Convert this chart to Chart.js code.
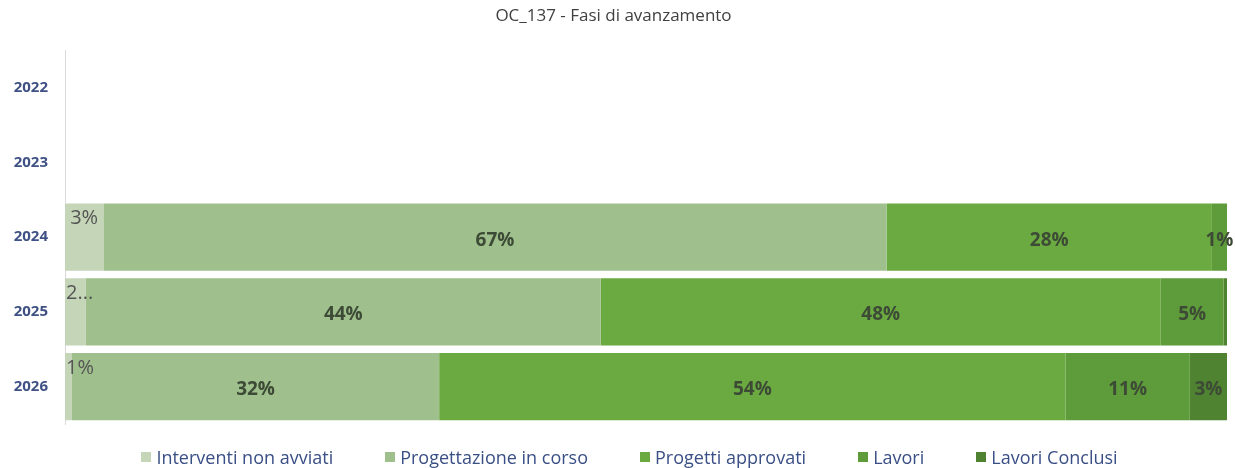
<!DOCTYPE html>
<html lang="it">
<head>
<meta charset="utf-8">
<title>OC_137 - Fasi di avanzamento</title>
<script src="https://cdn.jsdelivr.net/npm/chart.js@4/dist/chart.umd.min.js"></script>
<style>
    html, body {
        margin: 0;
        padding: 0;
        background: #ffffff;
    }
    .chart-wrap {
        position: relative;
        width: 1235px;
        height: 468px;
    }
    #fasiChart {
        position: absolute;
        left: 0;
        top: 0;
    }
    .legend {
        position: absolute;
        left: 24px;
        right: 0;
        top: 445px;
        display: flex;
        justify-content: center;
        gap: 52px;
        font-family: "Open Sans", sans-serif;
        font-size: 18px;
        color: #3a4f86;
        line-height: 24px;
    }
    .legend-item {
        display: flex;
        align-items: center;
        white-space: nowrap;
    }
    .legend-box {
        width: 10px;
        height: 10px;
        margin-right: 5px;
    }
</style>
</head>
<body>
<div class="chart-wrap">
    <canvas id="fasiChart" width="1235" height="468"></canvas>
    <div class="legend" id="legend"></div>
</div>
<script>
// Anni e quote percentuali per fase (2022 e 2023 senza dati)
const anni = ['2022', '2023', '2024', '2025', '2026'];
const fasi = ['Interventi non avviati', 'Progettazione in corso', 'Progetti approvati', 'Lavori', 'Lavori Conclusi'];

const interventiNonAvviati = [null, null, 3.3, 1.8, 0.6];
const progettazioneInCorso = [null, null, 67.4, 44.3, 31.6];
const progettiApprovati    = [null, null, 28.0, 48.2, 53.9];
const lavori               = [null, null, 1.3, 5.4, 10.7];
const lavoriConclusi       = [null, null, 0, 0.3, 3.2];

const coloriFasi = ['#c5d5b8', '#9fc08c', '#6baa41', '#5e9b3a', '#4f8331'];

// etichette che non entrano nel segmento: [dataset, indice]
const etichetteTroncate = [[0, 3]];

const serie = [interventiNonAvviati, progettazioneInCorso, progettiApprovati, lavori, lavoriConclusi];

// Draws the percentage labels on the bar segments
const percentLabels = {
    id: 'percentLabels',
    afterDatasetsDraw(chart) {
        const ctx = chart.ctx;
        const area = chart.chartArea;
        ctx.save();
        chart.data.datasets.forEach((ds, di) => {
            const meta = chart.getDatasetMeta(di);
            if (meta.hidden) return;
            meta.data.forEach((bar, i) => {
                const v = ds.data[i];
                if (v === null || Math.round(v) === 0) return;
                const p = bar.getProps(['x', 'y', 'base', 'height'], true);
                let text = Math.round(v) + '%';
                if (etichetteTroncate.some(t => t[0] === di && t[1] === i)) {
                    text = text.charAt(0) + '...';
                }
                const cx = (p.x + p.base) / 2;
                if (ds.labelMode === 'top') {
                    ctx.font = '20px "Open Sans", sans-serif';
                    ctx.fillStyle = '#555555';
                    ctx.textAlign = 'left';
                    ctx.textBaseline = 'middle';
                    const w = ctx.measureText(text).width;
                    const x = Math.max(area.left + 1, cx - w / 2);
                    ctx.fillText(text, x, p.y - p.height / 2 + 15);
                } else {
                    ctx.font = 'bold 19px "Open Sans", sans-serif';
                    ctx.fillStyle = '#3c4a36';
                    ctx.textAlign = 'center';
                    ctx.textBaseline = 'middle';
                    ctx.fillText(text, cx, p.y + 3);
                }
            });
        });
        ctx.restore();
    }
};

const datasets = fasi.map((nome, k) => ({
    label: nome,
    data: serie[k],
    backgroundColor: coloriFasi[k],
    borderWidth: 0,
    barPercentage: 0.9,
    categoryPercentage: 1.0,
    labelMode: k === 0 ? 'top' : 'center'
}));

const chart = new Chart(document.getElementById('fasiChart'), {
    type: 'bar',
    data: {
        labels: anni,
        datasets: datasets
    },
    options: {
        indexAxis: 'y',
        responsive: false,
        animation: false,
        layout: {
            padding: { top: 0, right: 8, bottom: 44, left: 0 }
        },
        plugins: {
            legend: { display: false },
            tooltip: { enabled: false },
            title: {
                display: true,
                text: 'OC_137 - Fasi di avanzamento',
                color: '#404040',
                font: { family: '"Open Sans", sans-serif', size: 17, weight: 'normal' },
                padding: { top: 6, bottom: 24 }
            }
        },
        scales: {
            x: {
                stacked: true,
                min: 0,
                max: 100,
                display: false
            },
            y: {
                stacked: true,
                grid: { display: false, drawTicks: false },
                border: { display: true, color: '#d9d9d9', width: 1 },
                ticks: {
                    color: '#3f5185',
                    padding: 17,
                    font: { family: '"Open Sans", sans-serif', size: 15, weight: 'bold' }
                },
                afterFit(scale) {
                    scale.width = 65;
                }
            }
        }
    },
    plugins: [percentLabels]
});

// Legend built from the chart datasets
const legendEl = document.getElementById('legend');
chart.data.datasets.forEach(ds => {
    const item = document.createElement('div');
    item.className = 'legend-item';
    item.innerHTML = `<span class="legend-box" style="background:${ds.backgroundColor}"></span>${ds.label}`;
    legendEl.appendChild(item);
});
</script>
</body>
</html>
